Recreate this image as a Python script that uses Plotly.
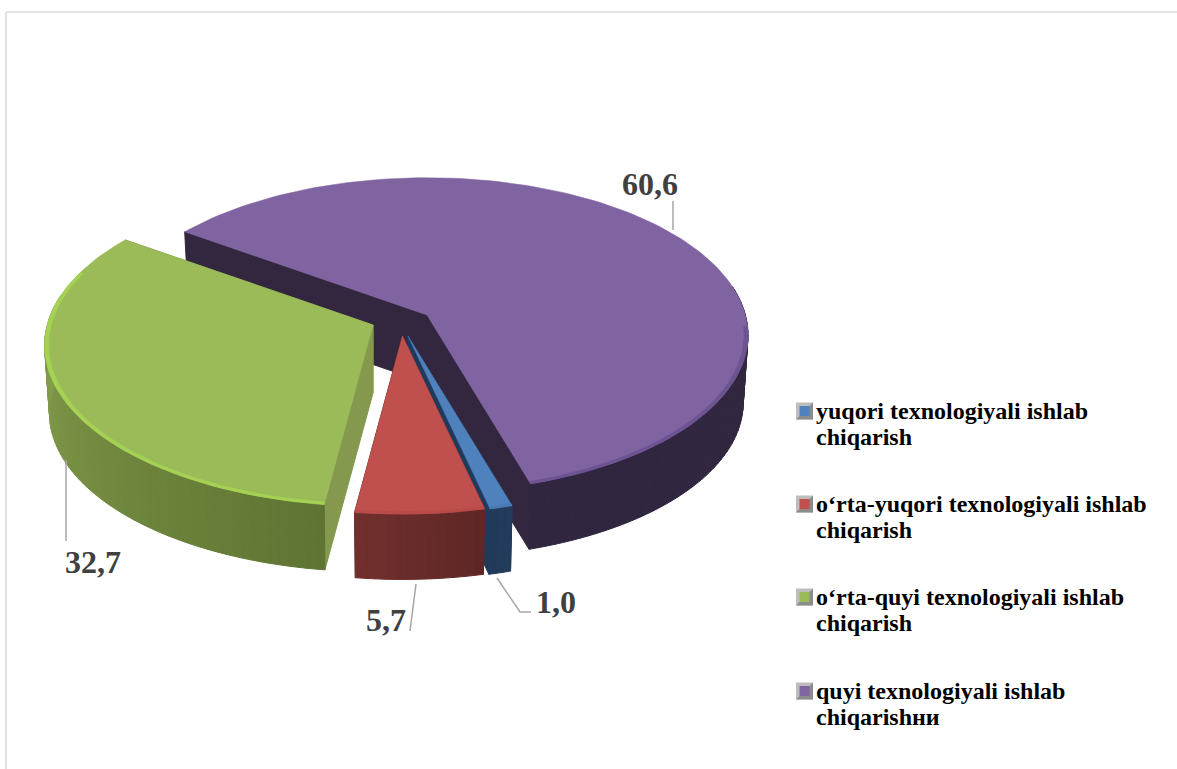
import math
import plotly.graph_objects as go

# ---------- data ----------
categories = [
    "yuqori texnologiyali ishlab chiqarish",
    "o‘rta-yuqori texnologiyali ishlab chiqarish",
    "o‘rta-quyi texnologiyali ishlab chiqarish",
    "quyi texnologiyali ishlab chiqarishни",
]
values = [1.0, 5.7, 32.7, 60.6]
value_labels = ["1,0", "5,7", "32,7", "60,6"]

# ---------- styles / layout constants ----------
top_colors = ["#4f81bd", "#c0504d", "#9bbb59", "#8064a2"]
rim_colors = ["#4a7ab3", "#b84b48", "#a6d254", "#6d5391"]
wall_near = ["#233c5c", "#5e2725", "#5f7433", "#33283f"]   # at the start of the arc
wall_far = ["#223a5a", "#702f2d", "#93ae55", "#31263f"]    # at the end of the arc
cut_colors = ["#1f3a5c", "#6a2b29", "#84994e", "#33273f"]
apex_x = [408, 402.5, 373, 427]
apex_y = [336, 336, 325, 315]
radius_scale = [1.0, 1.0, 1.018, 0.995]
band_limit = [0.35, 0.35, 0.35, -0.05]
draw_order = [3, 2, 0, 1]

RX, RY, PERSP = 320.0, 155.5, 0.127
DEPTH, SHRINK = 68.0, 0.985
START_ANGLE = 163.4
BORDER = "#d9d9d9"
LEADER = "#a6a6a6"
LABEL = "#404040"
FONT = "Liberation Serif"


def rim(i, theta, r=1.0):
    t = math.radians(theta)
    s = 1.0 / (1.0 + PERSP * r * math.cos(t))
    return (apex_x[i] + radius_scale[i] * r * RX * math.sin(t) * s,
            apex_y[i] - radius_scale[i] * r * RY * math.cos(t) * s)


def floor(i, pt):
    return (apex_x[i] + (pt[0] - apex_x[i]) * SHRINK,
            apex_y[i] + (pt[1] - apex_y[i]) * SHRINK + DEPTH)


def mix(c1, c2, t):
    a = [int(c1[k:k + 2], 16) for k in (1, 3, 5)]
    b = [int(c2[k:k + 2], 16) for k in (1, 3, 5)]
    return "#" + "".join(f"{round(p + (q - p) * t):02x}" for p, q in zip(a, b))


def poly(fig, pts, color, lw=1.0):
    fig.add_trace(go.Scatter(
        x=[p[0] for p in pts] + [pts[0][0]],
        y=[p[1] for p in pts] + [pts[0][1]],
        mode="lines", fill="toself", fillcolor=color,
        line=dict(color=color, width=lw),
        hoverinfo="skip", showlegend=False))


# slice angles come from the values
total = sum(values)
bounds = []
a = START_ANGLE
for v in values:
    bounds.append((a, a + v / total * 360.0))
    a += v / total * 360.0

fig = go.Figure()

for i in draw_order:
    a0, a1 = bounds[i]
    n = max(3, int((a1 - a0) / 1.5))
    angles = [a0 + (a1 - a0) * k / n for k in range(n + 1)]
    apex = (apex_x[i], apex_y[i])
    apex_low = (apex[0], apex[1] + DEPTH)

    # radial cut walls
    for ang in (a0, a1):
        p = rim(i, ang)
        poly(fig, [apex, p, floor(i, p), apex_low], cut_colors[i])

    # outer curved wall, as thin shaded strips
    for k in range(n):
        mid = (angles[k] + angles[k + 1]) / 2
        if math.cos(math.radians(mid)) > 0.2:
            continue
        p, q = rim(i, angles[k]), rim(i, angles[k + 1])
        t = k / max(1, n - 1)
        poly(fig, [p, q, floor(i, q), floor(i, p)], mix(wall_near[i], wall_far[i], t))

    # top face
    poly(fig, [apex] + [rim(i, x) for x in angles], top_colors[i], 0.5)

    # thin bevel along the visible front edge
    band = [x for x in angles if math.cos(math.radians(x)) < band_limit[i]]
    if len(band) > 1:
        outer = [rim(i, x) for x in band]
        inner = [rim(i, x, 0.988) for x in reversed(band)]
        poly(fig, outer + inner, rim_colors[i], 0.5)

# leader lines
leaders = [
    [(497, 578), (520, 612), (531, 612)],
    [(416, 584), (410, 631)],
    [(66, 460), (66, 541)],
    [(673, 201), (673, 230)],
]
for seg in leaders:
    fig.add_trace(go.Scatter(x=[p[0] for p in seg], y=[p[1] for p in seg], mode="lines",
                             line=dict(color=LEADER, width=1.5),
                             hoverinfo="skip", showlegend=False))

annotations = []
label_pos = [(556, 602), (386, 620), (93, 562), (650, 184)]
for text, (x, y) in zip(value_labels, label_pos):
    annotations.append(dict(x=x, y=y, xref="x", yref="y", text=f"<b>{text}</b>", showarrow=False,
                            xanchor="center", yanchor="middle",
                            font=dict(family=FONT, size=32, color=LABEL)))

# legend, drawn as text with bevelled swatches
legend_y = [411, 504, 597, 691]
shapes = [
    dict(type="line", xref="x", yref="y", x0=6, x1=6, y0=12, y1=769, line=dict(color=BORDER, width=1.5)),
    dict(type="line", xref="x", yref="y", x0=6, x1=1177, y0=12, y1=12, line=dict(color=BORDER, width=1.5)),
]
for name, y, col in zip(categories, legend_y, top_colors):
    head, tail = name.rsplit(" ", 1)
    annotations.append(dict(x=816, y=y, xref="x", yref="y", text=f"<b>{head}</b>", showarrow=False,
                            xanchor="left", yanchor="middle", xshift=-2,
                            font=dict(family=FONT, size=24, color="#000000")))
    annotations.append(dict(x=816, y=y + 26, xref="x", yref="y", text=f"<b>{tail}</b>", showarrow=False,
                            xanchor="left", yanchor="middle", xshift=-2,
                            font=dict(family=FONT, size=24, color="#000000")))
    x0, x1, y0, y1 = 796, 813, y - 8.5, y + 8.5
    shapes.append(dict(type="rect", xref="x", yref="y", x0=x0, x1=x1, y0=y0, y1=y1,
                       fillcolor="#bdbdbd", line=dict(width=0)))
    shapes.append(dict(type="path", xref="x", yref="y",
                       path=f"M {x0} {y1} L {x1} {y1} L {x1} {y0} Z",
                       fillcolor="#8c8c8c", line=dict(width=0)))
    shapes.append(dict(type="rect", xref="x", yref="y", x0=x0 + 3.5, x1=x1 - 3.5, y0=y0 + 3.5, y1=y1 - 3.5,
                       fillcolor=col, line=dict(width=0)))

fig.update_layout(
    width=1177, height=769,
    margin=dict(l=0, r=0, t=0, b=0),
    paper_bgcolor="#ffffff", plot_bgcolor="#ffffff",
    xaxis=dict(range=[0, 1177], visible=False, fixedrange=True),
    yaxis=dict(range=[769, 0], visible=False, fixedrange=True),
    showlegend=False,
    annotations=annotations, shapes=shapes,
)

fig.write_html("out.html", config=dict(displayModeBar=False),
               post_script="document.body.style.margin='0';document.body.style.overflow='hidden';")
